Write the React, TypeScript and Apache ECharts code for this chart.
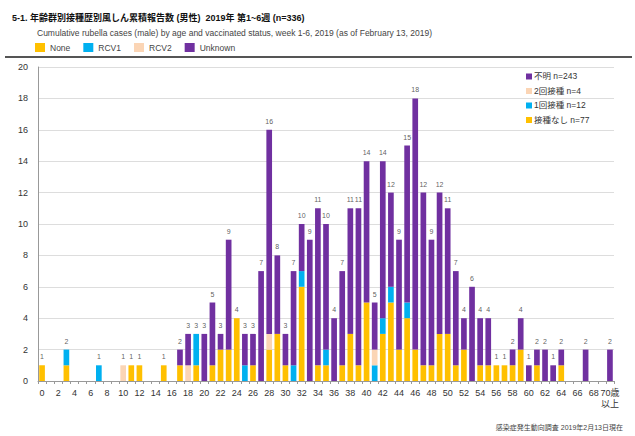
import React, { useEffect, useRef } from "react";
import * as echarts from "echarts";

const ages: string[] = Array.from({ length: 70 }, (_, i) => String(i)).concat(["70歳\n以上"]);

const noneVals = [
  1, 0, 0, 1, 0, 0, 0, 0, 0, 0,
  0, 1, 1, 0, 0, 1, 0, 1, 0, 1,
  0, 1, 2, 2, 4, 0, 1, 0, 2, 3,
  1, 0, 6, 0, 1, 1, 0, 1, 3, 1,
  5, 0, 3, 5, 2, 4, 2, 1, 1, 3,
  3, 1, 2, 0, 1, 1, 1, 1, 1, 2,
  0, 1, 0, 0, 1, 0, 0, 0, 0, 0,
  0,
];
const rcv1Vals = [
  0, 0, 0, 1, 0, 0, 0, 1, 0, 0,
  0, 0, 0, 0, 0, 0, 0, 0, 0, 2,
  0, 0, 0, 0, 0, 1, 0, 0, 0, 0,
  0, 1, 1, 0, 0, 1, 0, 0, 0, 0,
  0, 1, 1, 1, 0, 1, 0, 0, 0, 0,
  0, 0, 0, 0, 0, 0, 0, 0, 0, 0,
  0, 0, 0, 0, 0, 0, 0, 0, 0, 0,
  0,
];
const rcv2Vals = [
  0, 0, 0, 0, 0, 0, 0, 0, 0, 0,
  1, 0, 0, 0, 0, 0, 0, 0, 1, 0,
  0, 0, 0, 0, 0, 0, 0, 0, 1, 0,
  0, 0, 0, 0, 0, 0, 0, 0, 0, 0,
  0, 1, 0, 0, 0, 0, 0, 0, 0, 0,
  0, 0, 0, 0, 0, 0, 0, 0, 0, 0,
  0, 0, 0, 0, 0, 0, 0, 0, 0, 0,
  0,
];
const unknownVals = [
  0, 0, 0, 0, 0, 0, 0, 0, 0, 0,
  0, 0, 0, 0, 0, 0, 0, 1, 2, 0,
  3, 4, 1, 7, 0, 2, 2, 7, 13, 5,
  2, 6, 3, 9, 10, 8, 4, 6, 8, 10,
  9, 3, 10, 6, 7, 10, 16, 11, 8, 9,
  8, 6, 2, 6, 3, 3, 0, 0, 1, 2,
  1, 1, 2, 1, 1, 0, 0, 2, 0, 0,
  2,
];

const yTicks = { min: 0, max: 20, interval: 2 };

const seriesNames = ["None", "RCV1", "RCV2", "Unknown"];
const colors = ["#FFC000", "#00B0F0", "#FBD5B5", "#7030A0"];
const innerLegendNames = ["不明", "2回接種", "1回接種", "接種なし"];

const titleText = "5-1. 年齢群別接種歴別風しん累積報告数 (男性)  2019年 第1~6週 (n=336)";
const subtitleText =
  "Cumulative rubella cases (male) by age and vaccinated status, week 1-6, 2019 (as of February 13, 2019)";
const footerText = "感染症発生動向調査 2019年2月13日現在";

const FONT = "'Liberation Sans', Arial, 'Noto Sans CJK JP', sans-serif";

export default function App() {
  const ref = useRef<HTMLDivElement>(null);
  useEffect(() => {
    if (!ref.current) return;
    const chart = echarts.init(ref.current, null, { renderer: "svg" });
    const valueSets = [noneVals, rcv1Vals, rcv2Vals, unknownVals];
    const totals = ages.map((_, i) => valueSets.reduce((s, a) => s + a[i], 0));
    const sums = valueSets.map((a) => a.reduce((s, v) => s + v, 0));
    const innerOrder = [3, 2, 1, 0];

    const innerLegend: any[] = [];
    innerOrder.forEach((si, k) => {
      const y = 72 + k * 14.5;
      innerLegend.push({
        type: "rect",
        shape: { x: 526, y: y + 1.5, width: 6, height: 6 },
        style: { fill: colors[si] },
      });
      innerLegend.push({
        type: "text",
        x: 534,
        y: y,
        style: {
          text: `${innerLegendNames[k]} n=${sums[si]}`,
          fontSize: 8.5,
          fill: "#333",
          fontFamily: FONT,
        },
      });
    });

    chart.setOption({
      animation: false,
      textStyle: { fontFamily: FONT },
      title: [
        {
          text: titleText,
          left: 7,
          top: 8,
          textStyle: { fontSize: 9, fontWeight: "bold", color: "#111", fontFamily: FONT },
        },
        {
          text: subtitleText,
          left: 32,
          top: 24,
          textStyle: { fontSize: 8.5, fontWeight: "normal", color: "#444", fontFamily: FONT },
        },
      ],
      legend: {
        data: seriesNames,
        left: 30,
        top: 38,
        icon: "rect",
        itemWidth: 10,
        itemHeight: 9,
        itemGap: 13,
        textStyle: { fontSize: 8.5, color: "#444", fontFamily: FONT },
      },
      grid: { left: 38, right: 21, top: 67, bottom: 55, containLabel: false },
      xAxis: {
        type: "category",
        data: ages,
        axisLine: { lineStyle: { color: "#999" } },
        axisTick: { show: true, interval: 0, length: 3, lineStyle: { color: "#999" } },
        axisLabel: {
          interval: 1,
          fontSize: 9,
          color: "#333",
          margin: 6,
          lineHeight: 11,
        },
      },
      yAxis: {
        type: "value",
        min: yTicks.min,
        max: yTicks.max,
        interval: yTicks.interval,
        axisLine: { show: true, lineStyle: { color: "#999" } },
        axisTick: { show: false },
        axisLabel: { fontSize: 9, color: "#333", margin: 10 },
        splitLine: { lineStyle: { color: "#ddd" } },
      },
      series: [
        ...seriesNames.map((name, i) => ({
          name,
          type: "bar",
          stack: "total",
          data: valueSets[i],
          barCategoryGap: "30%",
          itemStyle: { color: colors[i] },
        })),
        {
          name: "total",
          type: "scatter",
          data: totals.map((t) => (t > 0 ? t : null)),
          symbolSize: 0,
          label: {
            show: true,
            position: "top",
            distance: 5,
            fontSize: 7,
            color: "#333",
            formatter: (p: any) => String(p.value),
          },
          z: 5,
        },
      ],
      graphic: [
        {
          type: "line",
          shape: { x1: 5, y1: 57, x2: 632, y2: 57 },
          style: { stroke: "#555", lineWidth: 2 },
        },
        ...innerLegend,
        {
          type: "text",
          right: 12,
          top: 424,
          style: { text: footerText, fontSize: 7, fill: "#444", fontFamily: FONT },
        },
      ],
    });
    return () => chart.dispose();
  }, []);
  return (
    <div
      ref={ref}
      style={{ position: "absolute", left: 0, top: 0, width: 635, height: 436 }}
    />
  );
}
